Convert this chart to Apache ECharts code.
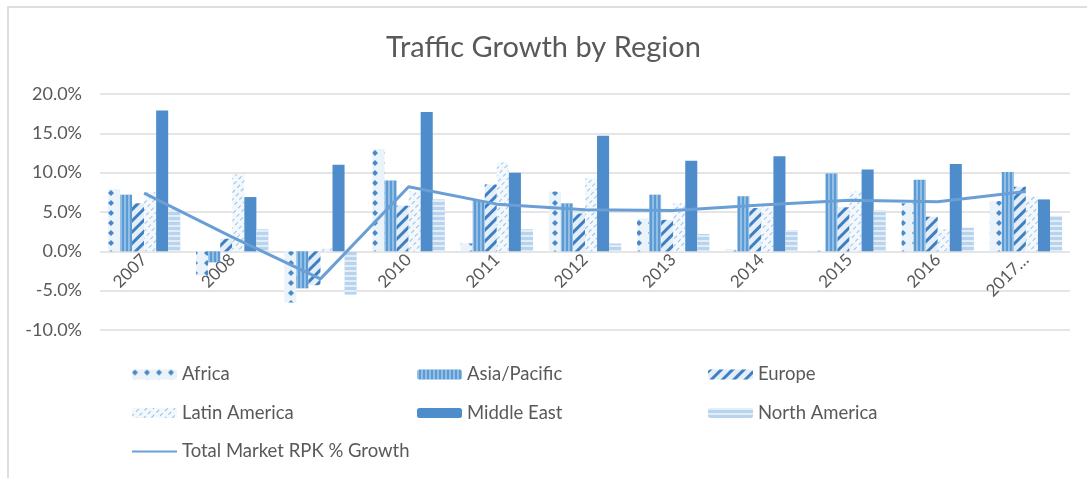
<!DOCTYPE html>
<html>
<head>
<meta charset="utf-8">
<script src="https://cdn.jsdelivr.net/npm/echarts@6/dist/echarts.min.js"></script>
<style>
  html, body { margin: 0; padding: 0; background: #fff; }
  #chart { width: 1087px; height: 478px; position: relative; }
  #frame { position: absolute; left: 7px; top: 6px; width: 1080px; height: 472px;
           border-top: 2px solid #dedede; border-left: 2px solid #dedede; pointer-events: none; }
</style>
</head>
<body>
<div id="chart"></div>
<div id="frame"></div>
<script>
const categories = ['2007','2008','2009','2010','2011','2012','2013','2014','2015','2016','2017…'];
const africa      = [7.9, -3.1, -6.5, 13.0, 1.0, 7.6, 4.2, 0.3, 0.1, 6.1, 6.4];
const asiaPacific = [7.2, -1.4, -4.7, 9.0, 6.4, 6.1, 7.2, 7.0, 9.9, 9.1, 10.1];
const europe      = [6.1, 1.6, -4.3, 5.8, 8.5, 4.8, 4.0, 5.5, 5.6, 4.4, 8.2];
const latinAmerica= [7.5, 9.8, 0.4, 7.6, 11.3, 9.3, 6.1, 5.6, 7.6, 2.8, 7.0];
const middleEast  = [17.9, 6.9, 11.0, 17.7, 10.0, 14.7, 11.5, 12.1, 10.4, 11.1, 6.6];
const northAmerica= [5.3, 2.8, -5.5, 6.6, 2.8, 1.0, 2.2, 2.7, 5.2, 3.0, 4.5];
const totalMarket = [7.4, 1.8, -3.5, 8.2, 6.0, 5.3, 5.2, 5.9, 6.5, 6.3, 7.6];
const yTicks = { min: -10, max: 20, interval: 5 };

const font = 'Lato, "Open Sans", sans-serif';
const grey = '#595959';

function bar(name, data, itemStyle) {
  return { name, type: 'bar', data, barGap: '0%', barCategoryGap: '18%', itemStyle, z: 2 };
}

const legendText = { fontFamily: font, fontSize: 18.5, color: grey };
const chart = echarts.init(document.getElementById('chart'), null, { renderer: 'canvas' });
chart.setOption({
  backgroundColor: '#ffffff',
  animation: false,
  title: {
    text: 'Traffic Growth by Region', left: 'center', top: 28,
    textStyle: { fontFamily: font, fontSize: 29, fontWeight: 'normal', color: grey }
  },
  grid: { left: 100, right: 17, top: 94, bottom: 148, containLabel: false },
  legend: [
    { data: ['Africa', 'Latin America', { name: 'Total Market RPK % Growth', itemStyle: { opacity: 0 } }],
      orient: 'vertical', left: 126, top: 360,
      itemWidth: 45, itemHeight: 10, itemGap: 19.5, textStyle: legendText },
    { data: ['Asia/Pacific', 'Middle East'], orient: 'vertical', left: 412, top: 360,
      itemWidth: 45, itemHeight: 10, itemGap: 19.5, textStyle: legendText },
    { data: ['Europe', 'North America'], orient: 'vertical', left: 703, top: 360,
      itemWidth: 45, itemHeight: 10, itemGap: 19.5, textStyle: legendText }
  ],
  xAxis: {
    type: 'category', data: categories,
    offset: -79,
    axisLine: { show: false, onZero: false },
    axisTick: { show: false },
    axisLabel: { rotate: 45, interval: 0, margin: 6, fontFamily: font, fontSize: 17, color: grey }
  },
  yAxis: {
    type: 'value', min: yTicks.min, max: yTicks.max, interval: yTicks.interval,
    axisLine: { show: false }, axisTick: { show: false },
    axisLabel: { formatter: v => v.toFixed(1) + '%', fontFamily: font, fontSize: 18, color: grey, margin: 18 },
    splitLine: { lineStyle: { color: '#dcdcdc', width: 1.5 } }
  },
  series: [
    bar('Africa', africa, {
      color: '#eaf2fa',
      decal: { symbol: 'diamond', symbolSize: 1, dashArrayX: [[6, 6]], dashArrayY: [6, 4], color: '#4a88c8' }
    }),
    bar('Asia/Pacific', asiaPacific, {
      color: '#5b9bd5',
      decal: { symbol: 'rect', symbolSize: 1, dashArrayX: [[2, 2]], dashArrayY: [10, 0], color: 'rgba(255,255,255,0.35)' }
    }),
    bar('Europe', europe, {
      color: '#e3eef8',
      decal: { symbol: 'rect', symbolSize: 1, dashArrayX: [[1, 0]], dashArrayY: [3, 5], rotation: -Math.PI / 4, color: '#3f7fc0' }
    }),
    bar('Latin America', latinAmerica, {
      color: '#f3f8fd',
      decal: { symbol: 'rect', symbolSize: 1, dashArrayX: [[4, 3]], dashArrayY: [1, 4], rotation: -Math.PI / 4, color: '#9cc0e6' }
    }),
    bar('Middle East', middleEast, { color: '#4e8ccb' }),
    bar('North America', northAmerica, {
      color: '#b8d3ee',
      decal: { symbol: 'rect', symbolSize: 1, dashArrayX: [[10, 0]], dashArrayY: [2, 3], color: 'rgba(255,255,255,0.6)' }
    }),
    {
      name: 'Total Market RPK % Growth', type: 'line', data: totalMarket, symbol: 'none', z: 5,
      lineStyle: { color: '#6a9fd6', width: 3 }, itemStyle: { color: '#6a9fd6' }
    }
  ]
});
</script>
</body>
</html>
